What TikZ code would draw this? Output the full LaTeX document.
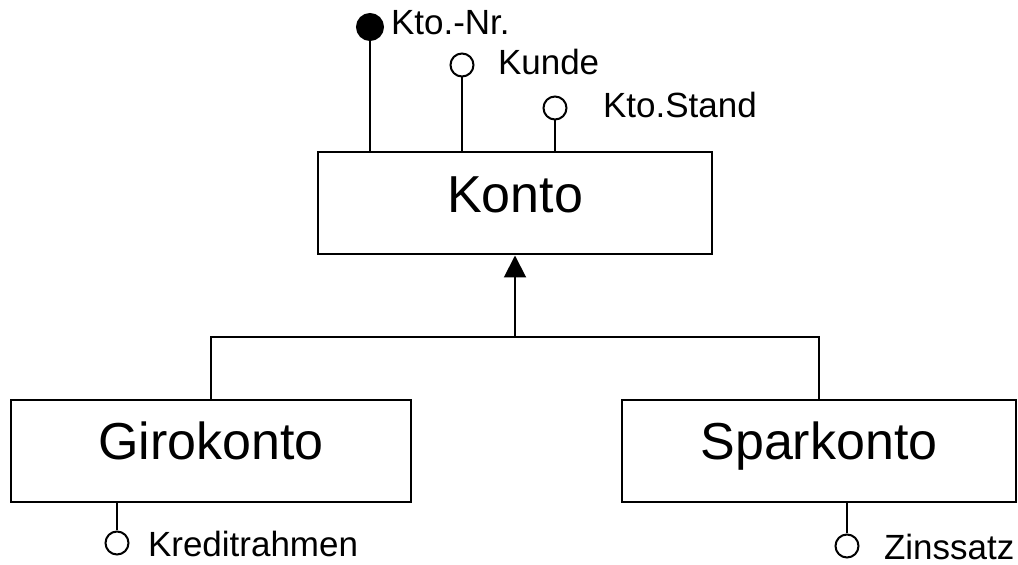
\documentclass[tikz,border=0pt]{standalone}
\usepackage{fontspec}
\setmainfont{Liberation Sans}
\usetikzlibrary{arrows.meta}
\usetikzlibrary{calc}

\begin{document}
\begin{tikzpicture}[x=0.5pt,y=-0.5pt,line width=1pt]
    \tikzstyle{entity}=[draw,inner sep=0,text height=30pt,text depth=21pt,font=\fontsize{26}{26}\selectfont]
    \tikzstyle{attr}=[circle,draw,inner sep=0,minimum size=11.5pt]
    \tikzstyle{key attr}=[attr,fill=black,minimum size=13pt]
    \tikzstyle{attr name}=[anchor=base west,inner sep=0,font=\fontsize{17.5}{17.5}\selectfont]
    \useasboundingbox (0,0) rectangle (1018,565);
    % entities
    \node(konto)[entity,minimum width=197pt] at (515,203.5){Konto};
    \node(giro)[entity,minimum width=200pt] at (211,451){Girokonto};
    \node(spar)[entity,minimum width=197pt] at (819,451){Sparkonto};
    % attributes of Konto
    \node(ktonr)[key attr] at (370,27){};
    \node(kunde)[attr] at (462,65){};
    \node(stand)[attr] at (555,108){};
    \node(ktonr name)[attr name] at (390,35){Kto.-Nr.};
    \node(kunde name)[attr name] at (497,75){Kunde};
    \node(stand name)[attr name] at (602,118){Kto.Stand};
    \draw (ktonr) -- (ktonr |- konto.north);
    \draw (kunde) -- (kunde |- konto.north);
    \draw (stand) -- (stand |- konto.north);
    % attributes of the subclasses
    \node(kredit)[attr] at (117,543){};
    \node(zins)[attr] at (847,546){};
    \node(kredit name)[attr name] at (147,557){Kreditrahmen};
    \node(zins name)[attr name] at (883,560){Zinssatz};
    \draw (kredit) -- (kredit |- giro.south);
    \draw (zins) -- (zins |- spar.south);
    % generalisation
    \coordinate(fork) at (konto.south |- 0,337);
    \draw (giro.north) |- (fork) -| (spar.north);
    \draw[-{Triangle[width=11pt,length=11pt]}] (fork) -- (konto.south);
\end{tikzpicture}
\end{document}
